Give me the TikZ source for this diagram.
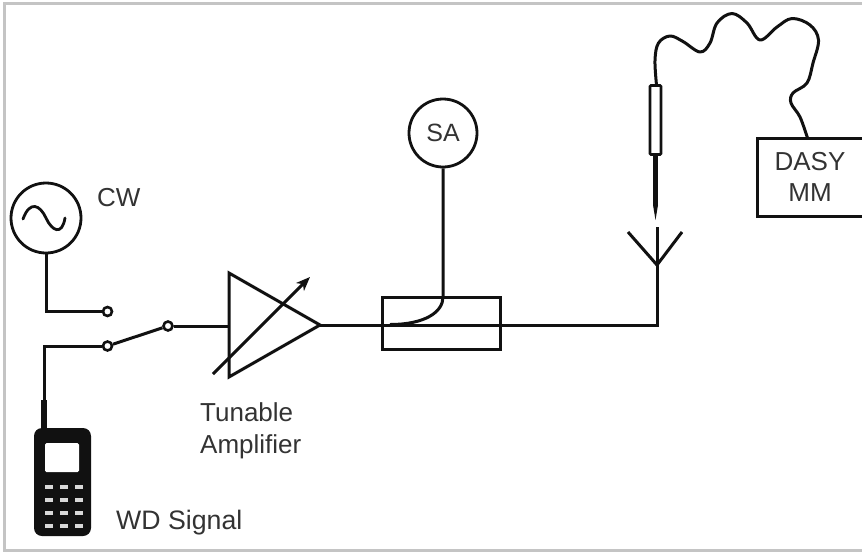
\documentclass[tikz,border=0pt]{standalone}
\usepackage{fontspec}
\usetikzlibrary{arrows.meta}
\setmainfont{Liberation Sans}
\definecolor{ink}{HTML}{111111}
\definecolor{txt}{HTML}{333333}
\definecolor{framegray}{HTML}{C4C4C4}
\tikzset{
  wire/.style={draw=ink,line width=3pt,line join=miter},
  term/.style={circle,draw=ink,fill=white,line width=2.6pt,minimum size=9pt,inner sep=0pt},
  lab/.style={text=txt,font=\fontsize{26}{32}\selectfont,inner sep=0pt,align=left},
  rnd/.style={circle,draw=ink,fill=white,line width=2.8pt,inner sep=0pt,text=txt,font=\fontsize{25}{30}\selectfont},
  boxn/.style={rectangle,draw=ink,line width=3pt,inner sep=0pt,fill=none},
  key/.style={fill=white!85!black,draw=none,minimum width=8pt,minimum height=3.5pt,inner sep=0pt}
}
\begin{document}
\begin{tikzpicture}[x=1pt,y=-1pt]
\useasboundingbox (0,0) rectangle (862,552);
\fill[white] (0,0) rectangle (862,552);
\draw[framegray,line width=3pt] (862,3.5) -- (4,3.5) -- (4,550.5) -- (862,550.5);

% sources
\node[rnd,minimum size=70pt] (cw) at (46,218) {};
\draw[ink,line width=2.8pt,line cap=round] (23,219) .. controls (30,200) and (40,205) .. (46,218) .. controls (52,231) and (62,236) .. (65,218);
\node[lab,anchor=west] (cwl) at (97,198) {CW};

% switch terminals
\node[term] (t1) at (107.5,311.5) {};
\node[term] (t2) at (107.5,346) {};
\node[term] (t3) at (168,326) {};
\coordinate (c1) at (46,311.5);
\coordinate (c2) at (44,346);
\draw[wire] (cw.south) -- (c1) -- (t1.west);
\draw[wire] (t2) -- (t3);

% phone
\node[draw=none,fill=ink,rounded corners=8pt,minimum width=57pt,minimum height=108pt,inner sep=0pt] (ph) at (62.5,482) {};
\node[fill=white,rounded corners=1.5pt,minimum width=34pt,minimum height=29pt,inner sep=0pt] (screen) at (62,457.5) {};
\foreach \r/\y in {a/487,b/500,c/513,d/526}{
  \foreach \c/\x in {1/49,2/64,3/79}{
    \node[key] (k\r\c) at (\x,\y) {};
  }
}
\coordinate (ant1) at (44,400);
\coordinate (ant2) at (44,430);
\draw[wire] (t2.west) -- (c2) -- (ant1);
\draw[ink,line width=6pt] (ant1) -- (ant2);
\node[lab,anchor=west,font=\fontsize{26.7}{32}\selectfont] (wd) at (116,523) {WD Signal};

% amplifier
\coordinate (a1) at (229,273);
\coordinate (a2) at (229,377);
\coordinate (a3) at (320,325);
\draw[wire,line join=miter] (a1) -- (a3) -- (a2) -- cycle;
\coordinate (ain) at (229,326);
\draw[wire] (t3.east) -- (ain);
\coordinate (tu1) at (213,374);
\coordinate (tu2) at (310,277);
\draw[ink,line width=3pt,-{Stealth[length=14pt,width=11pt,inset=4pt]}] (tu1) -- (tu2);
\node[lab,anchor=north west] (ta) at (200,402) {Tunable\\Amplifier};

% coupler and spectrum analyser
\node[boxn,minimum width=118pt,minimum height=52pt] (cp) at (441,323) {};
\node[rnd,minimum size=68pt] (sa) at (443,133) {SA};
\coordinate (cpt) at (443,297);
\coordinate (cpl) at (390,324.5);
\draw[wire] (sa.south) -- (cpt) .. controls (443,312) and (425,324.5) .. (cpl);
\draw[ink,line width=3.8pt] (cpl) -- (410,324.5);

% main line and antenna
\coordinate (corner) at (657,325);
\coordinate (av) at (657,265);
\coordinate (at) at (657,227);
\coordinate (al) at (628,232);
\coordinate (ar) at (682,232);
\draw[wire] (a3) -- (corner) -- (at);
\draw[wire] (al) -- (av) -- (ar);

% probe
\node[rectangle,draw=ink,fill=white,line width=2.8pt,minimum width=11pt,minimum height=69pt,inner sep=0pt,rounded corners=1pt] (pr) at (655.5,120) {};
\coordinate (tip0) at (655.5,205);
\coordinate (tip1) at (655.5,220);
\draw[ink,line width=5pt] (pr.south) -- (tip0);
\fill[ink] (653,205) -- (658,205) -- (tip1) -- cycle;

% DASY
\node[boxn,minimum width=106pt,minimum height=78pt,text=txt,align=center,font=\fontsize{26}{31}\selectfont] (dasy) at (810,177) {\raisebox{-2pt}{DASY}\\\raisebox{-2pt}{MM}};

% cable
\coordinate (ce) at (807.5,138);
\draw[ink,line width=3pt,line cap=round,line join=round] plot[smooth,tension=0.6] coordinates {
(656.5,85) (655,60) (658.5,43) (670,36) (683,41.5) (700,52) (710,43) (717,23) (732,13.5)
(747,23) (760,40) (777,27) (792,18.5) (810,25) (818.5,40) (813,63) (807,83) (793,93)
(791,103) (800,117) (807.5,138)};
\end{tikzpicture}
\end{document}
